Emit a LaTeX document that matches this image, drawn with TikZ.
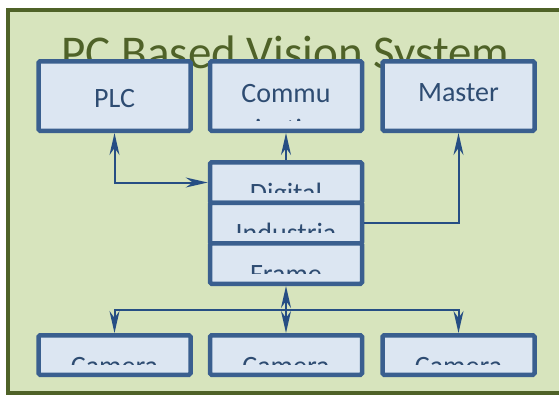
\documentclass[tikz,border=0pt]{standalone}
\usepackage{fontspec}
\setmainfont{Carlito}
\usetikzlibrary{arrows.meta,calc,positioning}
\definecolor{panelgreen}{HTML}{D7E4BD}
\definecolor{panelolive}{HTML}{4F6228}
\definecolor{unitblue}{HTML}{3A5F8F}
\definecolor{unitfill}{HTML}{DCE6F2}
\definecolor{linkblue}{HTML}{264E84}

\begin{document}
\begin{tikzpicture}[x=1pt, y=-1pt,
    >={Stealth[length=22pt, width=10pt, inset=7pt]},
    panel/.style={draw=panelolive, fill=panelgreen, line width=4pt},
    unit_text/.style={text=unitblue!80!black, font=\fontsize{28}{36}\selectfont, align=center, inner sep=0pt},
    % #1: drop of the last text line below the centre, #2: text
    unit_box/.style 2 args={draw=unitblue, fill=unitfill, line width=4.5pt, rounded corners=1.5pt,
        minimum width=152pt, inner sep=0pt,
        path picture={
            \clip ([yshift=10.5pt]path picture bounding box.south west) rectangle (path picture bounding box.north east);
            \node[unit_text, anchor=base] at ([yshift=-#1]path picture bounding box.center) {#2};
        }},
    top_unit/.style={minimum height=69.5pt},
    stack_unit/.style={minimum height=40.5pt},
    cam_unit/.style={minimum height=39.5pt},
    conn/.style={draw=linkblue, line width=2pt}
]
    \useasboundingbox (0,0) rectangle (559,394);
    \clip (0,0) rectangle (559,394);

    % Background panel and title
    \draw[panel] (8,10) rectangle (580,392.5);
    \node[text=panelolive, font=\fontsize{47}{56}\selectfont, anchor=base, inner sep=0pt] (title) at (285.5,68) {PC Based Vision System};

    % Nodes
    \node[unit_box={11pt}{PLC}, top_unit] (plc) at (114.5,96) {};
    \node[unit_box={42pt}{Commu\\nication}, top_unit] (comm) at (286,96) {};
    \node[unit_box={5pt}{Master}, top_unit] (master) at (458.5,96) {};

    \node[unit_box={20pt}{Digital}, stack_unit] (digital) at (286,182.5) {};
    \node[unit_box={19pt}{Industria}, stack_unit] (industria) at (286,223) {};
    \node[unit_box={19.5pt}{Frame}, stack_unit] (frame) at (286,263.5) {};

    \node[unit_box={20pt}{Camera}, cam_unit] (cam1) at (114.5,355) {};
    \node[unit_box={20pt}{Camera}, cam_unit] (cam2) at (286,355) {};
    \node[unit_box={20pt}{Camera}, cam_unit] (cam3) at (458.5,355) {};

    % Connections
    \draw[conn, <->] (plc.south) |- (digital.west);
    \draw[conn, ->] (digital.north) -- (comm.south);
    \draw[conn, ->] (industria.east) -| (master.south);
    \coordinate (bus) at ($(frame.south)!.5!(cam2.north)$);
    \draw[conn, <->] (frame.south) -- (cam2.north);
    \draw[conn, ->] (bus) -| (cam1.north);
    \draw[conn, ->] (bus) -| (cam3.north);
\end{tikzpicture}
\end{document}
